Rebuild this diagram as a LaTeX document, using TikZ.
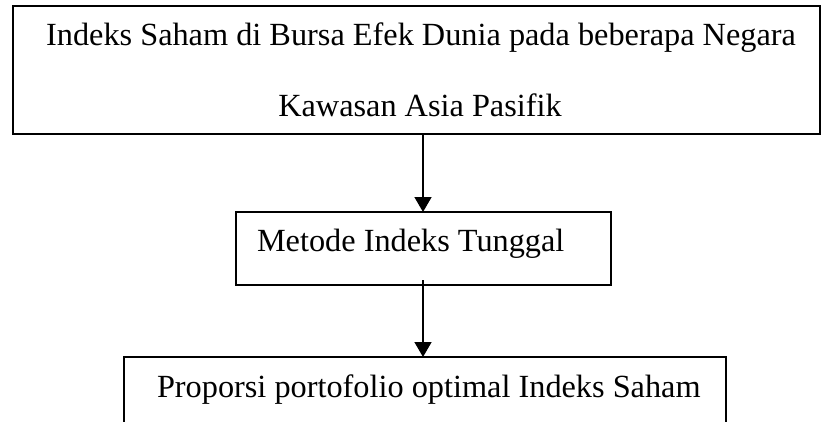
\documentclass[tikz,border=0pt]{standalone}
\usepackage{fontspec}
\setmainfont{Liberation Serif}
\usetikzlibrary{arrows.meta}

\tikzset{
  frame/.style={draw=black, line width=1.5pt, rectangle, inner sep=0pt, outer sep=0pt},
  label/.style={inner sep=0pt, outer sep=0pt, font=\fontsize{32.3}{38}\selectfont},
  flow/.style={line width=1.5pt, -{Triangle[length=15pt,width=17pt]}}
}

\begin{document}
\begin{tikzpicture}[x=1pt, y=-1pt]
  \clip (0,0) rectangle (821,421);
  \fill[white] (0,0) rectangle (821,421);

  % boxes
  \node[frame, minimum width=807pt, minimum height=128pt] (top) at (416.5,70) {};
  \node[frame, minimum width=375pt, minimum height=73pt] (mid) at (423.5,248.5) {};
  \node[frame, minimum width=602pt, minimum height=100pt] (bot) at (425,407) {};

  % texts
  \node[label, anchor=base] (t1) at (421,45) {Indeks Saham di Bursa Efek Dunia pada beberapa Negara};
  \node[label, anchor=base] (t2) at (420,116) {Kawasan Asia Pasifik};
  \node[label, anchor=base west] (t3) at (257,251) {Metode Indeks Tunggal};
  \node[label, anchor=base west] (t4) at (157,397) {Proporsi portofolio optimal Indeks Saham};

  % connectors
  \coordinate (axis) at (423,0);
  \draw[flow] (top.south -| axis) -- (mid.north -| axis);
  \draw[flow] ([yshift=5pt]mid.south -| axis) -- (bot.north -| axis);
\end{tikzpicture}
\end{document}
